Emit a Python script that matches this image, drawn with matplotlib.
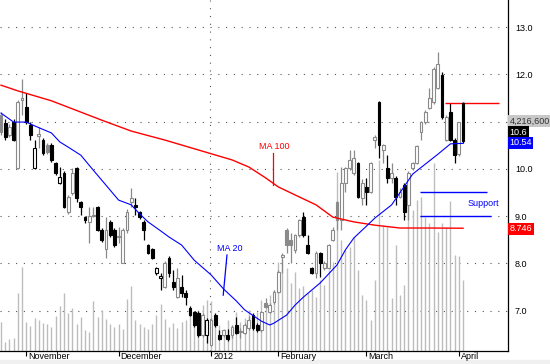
import numpy as np
import matplotlib
matplotlib.use("Agg")
import matplotlib.pyplot as plt
from matplotlib import transforms

plt.rcParams['font.family'] = ['Liberation Sans', 'DejaVu Sans']

###Candle data (daily, Oct 2011 - Apr 2012)
opens = [11.14, 10.97, 10.72, 10.99, 10.02, 11.46, 11.31, 10.93, 10.02, 10.70,
         10.61, 10.51, 10.51, 10.12, 9.70, 9.91, 9.09, 9.49, 10.02, 9.30,
         8.98, 8.88, 9.02, 9.20, 8.71, 8.31, 8.88, 8.71, 8.55, 8.01,
         8.71, 9.30, 9.22, 9.09, 8.88, 8.39, 8.31, 7.80, 7.70, 7.50,
         8.12, 7.61, 7.29, 7.50, 7.38, 7.06, 6.97, 6.95, 6.49, 6.49,
         6.28, 6.91, 6.49, 6.49, 6.49, 6.49, 6.70, 6.55, 6.53, 6.64,
         6.91, 6.70, 6.59, 7.17, 6.97, 7.19, 7.40, 8.14, 8.71, 8.50,
         8.29, 8.60, 8.98, 8.39, 7.90, 7.80, 8.22, 7.90, 7.90, 8.50,
         9.30, 8.92, 9.70, 10.02, 9.91, 10.12, 9.39, 9.62, 9.51, 10.61,
         11.41, 10.40, 10.02, 9.81, 9.81, 9.41, 9.67, 9.24, 10.02, 10.12,
         10.78, 10.99, 11.29, 11.41, 11.71, 11.99, 10.61, 11.20, 10.61, 10.31,
         11.39]
highs = [11.20, 11.05, 10.95, 11.05, 11.45, 11.90, 11.60, 10.99, 10.61, 10.89,
         10.65, 10.55, 10.55, 10.15, 10.04, 9.95, 9.45, 10.02, 10.04, 9.33,
         9.00, 9.20, 9.20, 9.22, 8.75, 8.98, 8.92, 8.75, 8.77, 8.75,
         9.15, 9.60, 9.39, 9.12, 8.92, 8.42, 8.33, 7.93, 7.80, 8.05,
         8.15, 7.86, 7.90, 7.76, 7.45, 7.10, 7.00, 7.00, 6.95, 6.85,
         6.85, 6.95, 6.59, 6.62, 6.62, 6.70, 6.87, 6.64, 6.75, 6.90,
         6.95, 6.75, 7.00, 7.27, 7.17, 7.44, 7.86, 8.22, 8.75, 8.65,
         8.63, 8.95, 9.09, 8.60, 7.93, 8.26, 8.25, 8.05, 8.42, 8.77,
         9.33, 10.04, 10.05, 10.40, 10.40, 10.15, 9.78, 9.81, 10.15, 10.72,
         11.43, 10.53, 10.29, 10.12, 9.85, 9.60, 9.70, 9.95, 10.15, 10.51,
         11.02, 11.25, 11.71, 12.15, 12.47, 12.05, 11.15, 11.40, 10.65, 11.00,
         11.41]
lows = [10.72, 10.62, 10.68, 10.58, 10.00, 11.14, 10.95, 10.61, 10.00, 10.44,
        10.30, 10.32, 10.15, 9.88, 9.68, 9.18, 9.05, 9.45, 9.30, 9.03,
        8.85, 8.43, 8.98, 8.68, 8.45, 8.12, 8.55, 8.35, 8.43, 8.01,
        8.65, 9.20, 9.03, 8.95, 8.50, 8.20, 8.10, 7.76, 7.44, 7.48,
        7.71, 7.45, 7.27, 7.29, 7.12, 6.88, 6.66, 6.45, 6.45, 6.32,
        6.26, 6.66, 6.38, 6.45, 6.36, 6.43, 6.50, 6.43, 6.50, 6.60,
        6.60, 6.55, 6.55, 7.05, 6.95, 7.15, 7.38, 7.80, 8.22, 8.01,
        8.22, 8.57, 8.57, 8.20, 7.77, 7.69, 7.71, 7.86, 7.88, 8.48,
        8.71, 8.71, 9.51, 9.98, 9.88, 9.38, 9.24, 9.24, 9.48, 10.44,
        10.23, 10.12, 9.70, 9.70, 9.24, 9.38, 8.92, 8.92, 9.98, 10.10,
        10.61, 10.95, 11.27, 11.38, 11.68, 11.05, 10.58, 10.58, 10.12, 10.28,
        10.55]
closes = [10.78, 10.67, 10.89, 10.61, 11.41, 11.50, 10.99, 10.72, 10.44, 10.74,
          10.34, 10.36, 10.19, 9.91, 9.83, 9.20, 9.41, 9.91, 9.39, 9.20,
          8.92, 9.00, 9.00, 8.71, 8.50, 8.71, 8.60, 8.39, 8.57, 8.71,
          9.09, 9.39, 9.20, 8.98, 8.71, 8.22, 8.12, 7.90, 7.72, 8.01,
          7.80, 7.50, 7.69, 7.38, 7.29, 6.91, 6.70, 6.49, 6.91, 6.81,
          6.81, 6.70, 6.40, 6.59, 6.40, 6.66, 6.53, 6.57, 6.70, 6.81,
          6.64, 6.59, 6.97, 7.08, 7.12, 7.40, 7.82, 8.18, 8.39, 8.39,
          8.60, 8.92, 8.60, 8.22, 7.80, 8.22, 8.01, 8.01, 8.39, 8.71,
          8.92, 9.70, 10.02, 10.19, 10.23, 9.41, 9.70, 9.51, 10.12, 10.67,
          10.51, 10.51, 9.81, 9.91, 9.41, 9.51, 9.09, 9.91, 10.12, 10.48,
          10.99, 11.20, 11.50, 12.11, 12.22, 11.10, 11.10, 10.61, 10.29, 10.99,
          10.60]
###Volume in millions
volumes = [1.73, 0.54, 0.71, 0.77, 3.45, 5.00, 1.73, 1.49, 1.96, 1.85,
           1.67, 1.61, 1.43, 2.08, 2.68, 3.45, 2.26, 2.56, 1.61, 2.02,
           1.25, 1.13, 2.98, 2.02, 2.44, 1.90, 1.61, 1.43, 1.61, 1.31,
           3.10, 3.87, 1.85, 1.61, 1.43, 1.31, 1.61, 2.14, 2.80, 1.90,
           1.43, 1.67, 1.37, 1.73, 1.85, 2.32, 1.96, 2.44, 2.74, 3.04,
           3.00, 2.14, 1.55, 1.25, 1.85, 1.55, 2.32, 1.73, 1.96, 2.44,
           1.96, 2.32, 3.04, 2.74, 3.33, 3.63, 5.30, 5.42, 4.94, 4.05,
           4.70, 3.75, 3.87, 3.45, 3.63, 3.21, 4.23, 3.93, 4.82, 5.30,
           10.65, 6.60, 6.00, 6.20, 6.80, 4.82, 3.33, 3.04, 1.85, 4.23,
           11.37, 7.50, 7.38, 3.15, 6.30, 3.33, 3.93, 9.76, 8.39, 8.99,
           9.17, 7.98, 7.62, 11.19, 7.08, 7.62, 7.38, 8.93, 5.71, 5.65,
           4.2166]
###Moving averages (index, value)
ma100_idx = [0, 4, 12, 24, 31, 39, 47, 55, 59, 63, 66, 70, 75, 79, 84, 89, 95, 102, 110]
ma100_val = [11.77, 11.65, 11.44, 11.03, 10.80, 10.61, 10.40, 10.19, 10.04, 9.81,
             9.62, 9.45, 9.24, 8.98, 8.88, 8.81, 8.75, 8.75, 8.746]
ma20_idx = [0, 3, 6, 8, 12, 14, 16, 19, 22, 26, 28, 31, 33, 35, 38, 40, 43, 46, 50,
            53, 56, 58, 62, 64, 65, 68, 70, 72, 76, 80, 82, 84, 87, 89, 93, 98, 104, 107, 110]
ma20_val = [11.18, 10.99, 10.99, 10.91, 10.76, 10.57, 10.46, 10.29, 9.97, 9.55,
            9.34, 9.24, 9.05, 8.88, 8.69, 8.56, 8.39, 8.07, 7.76, 7.46,
            7.21, 7.02, 6.78, 6.70, 6.74, 6.91, 7.12, 7.29, 7.59, 7.97,
            8.29, 8.54, 8.79, 8.96, 9.24, 9.89, 10.31, 10.53, 10.54]
month_labels = ['November', 'December', '2012', 'February', 'March', 'April']
month_pos = [6, 28, 50, 66, 87, 109]
price_ticks = [7, 8, 9, 10, 11, 12, 13]
resistance = 11.39
support = [9.51, 9.00]

FS = 6.5

####### Figure #######
fig = plt.figure(figsize=(5.5, 3.64), dpi=100)
box = [0, 13/364, 508/550, 351/364]
axv = fig.add_axes(box)
ax = axv.twinx()
xlim = (-0.24, 120.7)
axv.set_xlim(*xlim)
axv.set_ylim(0, 20.9)
ax.set_ylim(6.15, 13.571)

n = len(closes)
x = np.arange(n)

# grid behind volume
dots = (0, (1, 6))
axv.hlines(price_ticks, xlim[0], xlim[1], transform=ax.transData,
           colors='#555555', lw=0.8, linestyles=[dots], zorder=0)
axv.axvline(49.8, color='#555555', lw=0.8, ls=dots, zorder=0)

# volume
axv.vlines(x, 0, volumes, colors='#bdbdbd', lw=1.0, zorder=1)
axv.set_yticks([])
for s in axv.spines.values():
    s.set_visible(False)

# candles
o = np.array(opens); c = np.array(closes)
prev = np.r_[c[0], c[:-1]]
edge = np.where(c >= prev, '#8a8a8a', 'black')
face = np.where(c >= o, 'white', edge)
ax.vlines(x, lows, highs, colors=edge, lw=0.9, zorder=2)
body = np.maximum(np.abs(c - o), 0.03)
ax.bar(x, body, bottom=np.minimum(o, c), width=0.68, color=face,
       edgecolor=edge, linewidth=0.8, zorder=3)

# moving averages
ax.plot(ma100_idx, ma100_val, color='#ff0000', lw=1.0, zorder=4)
ax.plot(ma20_idx, ma20_val, color='#0000ff', lw=0.8, zorder=4)

# annotations
ax.text(65, 10.48, 'MA 100', color='#ff0000', fontsize=FS, ha='center', va='center')
ax.plot([64.8, 64.8], [10.33, 9.66], color='#ff0000', lw=0.9)
ax.text(54.5, 8.31, 'MA 20', color='#0000ff', fontsize=FS, ha='center', va='center')
ax.plot([53.8, 52.9], [8.18, 7.33], color='#0000ff', lw=0.9)
ax.hlines(resistance, 105.7, 118.6, color='#ff0000', lw=1.0)
ax.hlines(support[0], 99.8, 115.7, color='#0000ff', lw=1.0)
ax.hlines(support[1], 99.8, 116.7, color='#0000ff', lw=1.0)
ax.text(111.0, 9.26, 'Support', color='#0000ff', fontsize=FS, ha='left', va='center')

# axes (11.0 label sits under the volume tag)
ax.set_xlim(*xlim)
ax.yaxis.set_ticks_position('right')
ax.set_yticks(price_ticks)
ax.set_yticklabels(['' if t == 11 else '%.1f' % t for t in price_ticks], fontsize=FS)
ax.tick_params(axis='y', length=0, pad=5)
ax.set_xticks(month_pos)
ax.set_xticklabels([])
ax.tick_params(axis='x', length=4, direction='out', width=0.8)
for s in ['top', 'left']:
    ax.spines[s].set_visible(False)
for s in ['right', 'bottom']:
    ax.spines[s].set_linewidth(0.9)
    ax.spines[s].set_color('black')

tx = transforms.blended_transform_factory(ax.transData, ax.transAxes)
for p, lab in zip(month_pos, month_labels):
    ax.text(p + 0.5, -0.004, lab, transform=tx, fontsize=FS, ha='left', va='top')

# value tags on the right
ty = transforms.blended_transform_factory(ax.transAxes, ax.transData)
tags = [(11.01, '4,216,600', '#c8c8c8', '#333333'),
        (10.78, '10.6', 'black', 'white'),
        (10.55, '10.54', '#0000ff', 'white'),
        (8.73, '8.746', '#ff0000', 'white')]
for yv, txt, bg, fg in tags:
    ax.text(1.003, yv, txt, transform=ty, fontsize=FS, color=fg, ha='left', va='center',
            clip_on=False, zorder=10,
            bbox=dict(boxstyle='square,pad=0.15', fc=bg, ec='none'))

fig.patches.append(plt.Rectangle((0, 0), 1, 4/364, transform=fig.transFigure,
                                 color='#f0f0f0', zorder=-1))
fig.savefig('out.png', dpi=100)
